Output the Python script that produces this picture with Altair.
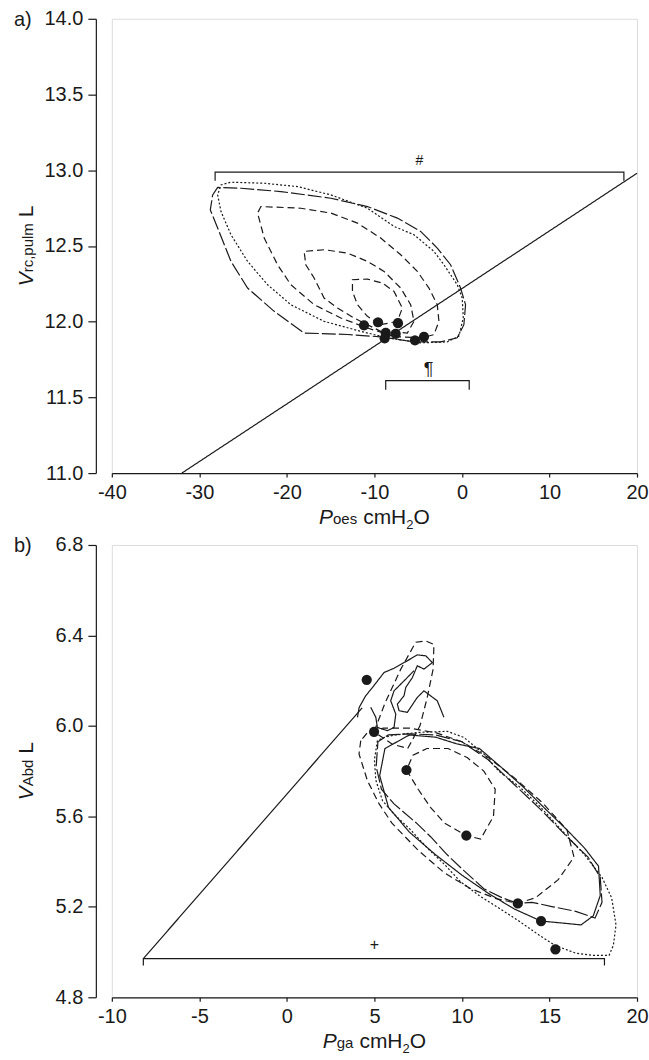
import altair as alt
import pandas as pd

FONT = "Liberation Sans"
INK = "#1a1a1a"

# ---------------- Panel a data ----------------
a_x_ticks = [-40, -30, -20, -10, 0, 10, 20]
a_y_ticks = [11.0, 11.5, 12.0, 12.5, 13.0, 13.5, 14.0]

a_loop_outer = [(-9.28, 11.90), (-5.48, 11.866), (-2.44, 11.866), (-0.54, 11.893), (0.22, 11.98),
                (0.41, 12.112), (-0.16, 12.222), (-1.30, 12.376), (-2.82, 12.486), (-4.72, 12.596),
                (-7.38, 12.684), (-10.80, 12.760), (-14.98, 12.815), (-20.69, 12.859), (-25.25, 12.881),
                (-27.91, 12.886), (-28.48, 12.837), (-28.75, 12.738), (-27.91, 12.618), (-26.39, 12.398),
                (-24.49, 12.222), (-21.45, 12.068), (-18.03, 11.925), (-13.08, 11.915)]
a_loop_dotted = [(-8.52, 11.893), (-4.72, 11.860), (-1.68, 11.866), (-0.35, 11.904), (0.15, 12.024),
                 (0.03, 12.156), (-0.54, 12.244), (-2.06, 12.376), (-3.20, 12.464), (-5.48, 12.574),
                 (-7.76, 12.629), (-10.80, 12.749), (-14.98, 12.837), (-18.79, 12.892), (-22.59, 12.914),
                 (-26.39, 12.921), (-27.53, 12.903), (-27.91, 12.837), (-27.53, 12.727), (-26.39, 12.574),
                 (-24.49, 12.398), (-22.21, 12.244), (-19.55, 12.112), (-15.75, 12.002), (-11.56, 11.936)]
a_loop_large = [(-7.76, 11.903), (-4.72, 11.892), (-3.20, 11.914), (-2.63, 12.002), (-2.82, 12.112),
                (-3.77, 12.222), (-5.10, 12.332), (-7.00, 12.442), (-9.28, 12.552), (-11.94, 12.651),
                (-14.98, 12.717), (-18.41, 12.749), (-22.97, 12.760), (-23.35, 12.717), (-22.59, 12.552),
                (-21.07, 12.376), (-19.55, 12.244), (-16.89, 12.112), (-13.84, 12.024), (-10.80, 11.958)]
a_loop_medium = [(-9.28, 11.936), (-6.24, 11.925), (-5.48, 12.002), (-5.86, 12.112), (-7.00, 12.222),
                 (-8.90, 12.332), (-10.80, 12.398), (-13.08, 12.453), (-15.75, 12.475), (-18.03, 12.464),
                 (-17.84, 12.376), (-16.89, 12.288), (-15.75, 12.156), (-14.22, 12.090), (-12.32, 12.024)]
a_loop_small = [(-9.28, 11.980), (-7.38, 12.002), (-6.81, 12.090), (-7.76, 12.200), (-9.10, 12.255),
                (-10.80, 12.281), (-12.51, 12.277), (-12.51, 12.200), (-11.94, 12.112), (-10.80, 12.035)]
a_relax_line = [(-32.0, 11.0), (20.0, 12.98)]
a_bracket_hash = [(-28.2, 12.93), (-28.2, 12.987), (18.5, 12.987), (18.5, 12.93)]
a_bracket_para = [(-8.71, 11.55), (-8.71, 11.61), (0.83, 11.61), (0.83, 11.55)]
a_dots_x = [-11.19, -9.59, -7.31, -8.71, -7.57, -8.83, -5.37, -4.34]
a_dots_y = [11.976, 11.996, 11.99, 11.926, 11.92, 11.89, 11.877, 11.90]
a_symbols = [("#", -4.85, 13.06, 14), ("¶", -3.8, 11.68, 18)]

# ---------------- Panel b data ----------------
b_x_ticks = [-10, -5, 0, 5, 10, 15, 20]
b_y_ticks = [4.8, 5.2, 5.6, 6.0, 6.4, 6.8]

b_loop_dotted = [(5.17, 5.935), (5.0, 5.85), (5.08, 5.76), (5.46, 5.67), (6.12, 5.61), (7.07, 5.54),
                 (8.02, 5.46), (8.97, 5.39), (9.93, 5.31), (11.07, 5.245), (12.2, 5.19), (13.2, 5.14),
                 (14.5, 5.07), (15.3, 5.03), (16.5, 4.995), (17.5, 4.985), (18.4, 4.985), (18.65, 5.03),
                 (18.8, 5.12), (18.55, 5.24), (18.0, 5.33), (17.0, 5.43), (15.8, 5.53), (14.5, 5.64),
                 (13.3, 5.73), (12.1, 5.80), (11.25, 5.876), (10.11, 5.949), (9.16, 5.976), (7.45, 5.971),
                 (6.2, 5.96), (5.6, 5.95)]
b_loop_long = [(13.19, 5.215), (12.3, 5.24), (11.25, 5.28), (10.11, 5.36), (9.16, 5.43), (8.21, 5.51),
               (7.45, 5.567), (6.12, 5.655), (5.4, 5.72), (5.1, 5.82), (5.2, 5.93), (5.8, 5.96),
               (7.0, 5.965), (8.5, 5.96), (10.0, 5.93), (11.5, 5.85), (13.0, 5.74), (14.5, 5.63),
               (16.0, 5.51), (17.2, 5.42), (17.9, 5.33), (18.0, 5.22), (17.6, 5.15), (16.5, 5.18),
               (15.2, 5.2), (14.0, 5.22)]
b_loop_solid = [(14.52, 5.137), (15.5, 5.13), (16.8, 5.12), (17.5, 5.16), (17.9, 5.25), (17.8, 5.38),
                (17.0, 5.46), (16.0, 5.54), (14.8, 5.63), (13.5, 5.73), (12.2, 5.82), (11.0, 5.9),
                (9.73, 5.92), (8.5, 5.95), (7.0, 5.96), (5.6, 5.9), (5.3, 5.78), (5.8, 5.64),
                (7.0, 5.53), (8.5, 5.43), (10.0, 5.34), (11.5, 5.26), (13.0, 5.19)]
b_loop_dash_big = [(4.22, 5.935), (4.12, 5.876), (4.6, 5.758), (5.27, 5.655), (6.0, 5.57), (7.5, 5.45),
                   (9.0, 5.35), (10.5, 5.28), (12.0, 5.235), (13.19, 5.215), (14.2, 5.24), (15.5, 5.32),
                   (16.4, 5.42), (16.0, 5.54), (14.6, 5.66), (13.0, 5.77), (11.5, 5.86), (10.0, 5.93),
                   (8.5, 5.97), (7.0, 5.99), (5.5, 5.99), (4.6, 5.97)]
b_loop_dash_mid = [(6.83, 5.805), (7.5, 5.72), (8.2, 5.64), (9.0, 5.57), (10.25, 5.515), (11.07, 5.50),
                   (11.8, 5.6), (11.9, 5.72), (11.25, 5.80), (10.3, 5.86), (9.2, 5.9), (8.0, 5.9),
                   (7.2, 5.87)]
b_loop_dash_top = [(4.98, 5.974), (5.6, 6.1), (6.5, 6.25), (7.36, 6.37), (7.93, 6.376), (8.4, 6.36),
                   (8.35, 6.25), (8.0, 6.12), (7.6, 6.0), (6.9, 5.9), (6.0, 5.92)]
b_scribble_1 = [(4.03, 6.038), (4.13, 6.082), (4.50, 6.133), (4.89, 6.170), (5.55, 6.236), (6.12, 6.255),
                (6.88, 6.288), (7.45, 6.314), (7.93, 6.310), (8.31, 6.280), (7.83, 6.251), (7.45, 6.266),
                (7.17, 6.214), (6.79, 6.170), (6.69, 6.133), (6.31, 6.096), (6.41, 6.067), (6.88, 6.060),
                (7.45, 6.126), (7.83, 6.155), (8.59, 6.111), (8.97, 6.038)]
b_scribble_2 = [(4.79, 6.082), (5.08, 6.038), (5.17, 5.993), (5.74, 5.979), (6.12, 5.993), (6.22, 6.052),
                (5.93, 6.111), (6.12, 6.155), (6.69, 6.199), (7.26, 6.244)]
b_relax_line = [(-8.2, 4.971), (4.3, 6.08)]
b_bracket_plus = [(-8.2, 4.94), (-8.2, 4.971), (18.14, 4.971), (18.14, 4.94)]
b_dots_x = [4.56, 4.98, 6.83, 10.25, 13.19, 14.52, 15.34]
b_dots_y = [6.204, 5.974, 5.805, 5.515, 5.215, 5.137, 5.012]
b_symbols = [("+", 5.0, 5.03, 16)]

STYLES = ["solid", "dotted", "dashed", "long", "dashdot"]
DASHES = [[1, 0], [2, 2], [7, 4], [14, 3], [12, 3, 3, 3]]

# Liberation Sans advance widths (em units) for layout of composed titles
CW = {"P": 0.667, "V": 0.667, "o": 0.556, "e": 0.556, "s": 0.5, "g": 0.556, "a": 0.556, " ": 0.278,
      "c": 0.5, "m": 0.833, "H": 0.722, "2": 0.556, "O": 0.778, "r": 0.333, ",": 0.278, "p": 0.556,
      "u": 0.556, "l": 0.222, "L": 0.556, "A": 0.667, "b": 0.556, "d": 0.556}


def tw(s, size):
    return sum(CW.get(c, 0.556) for c in s) * size


def lines_frame(items):
    rows = []
    for gid, (style, pts, closed) in enumerate(items):
        seq = list(pts) + ([pts[0]] if closed else [])
        for k, (x, y) in enumerate(seq):
            rows.append({"x": x, "y": y, "id": gid, "ord": k, "style": style})
    return pd.DataFrame(rows)


dummy = pd.DataFrame({"k": [0]})


def text_piece(s, size, italic, px, py, angle=0):
    kw = dict(text=s, font=FONT, fontSize=size, fontStyle="italic" if italic else "normal",
              align="left", baseline="alphabetic", color=INK)
    if angle:
        kw["angle"] = angle
    return alt.Chart(dummy).mark_text(**kw).encode(x=alt.value(px), y=alt.value(py))


def x_title(pieces, center_x, base_y):
    # pieces: (text, size, italic, dy, gap_before)
    total = sum(tw(s, sz) + gap for s, sz, it, dy, gap in pieces)
    x0 = center_x - total / 2
    out = []
    for s, sz, it, dy, gap in pieces:
        x0 += gap
        out.append(text_piece(s, sz, it, x0, base_y + dy))
        x0 += tw(s, sz)
    return out


def y_title(pieces, base_x, center_y):
    total = sum(tw(s, sz) + gap for s, sz, it, gap in pieces)
    y0 = center_y + total / 2
    out = []
    for s, sz, it, gap in pieces:
        y0 -= gap
        out.append(text_piece(s, sz, it, base_x, y0, angle=270))
        y0 -= tw(s, sz)
    return out


def panel(line_items, dots_x, dots_y, symbols, xdom, ydom, xticks, yticks, W, H,
          xt_pieces, yt_pieces, tag):
    df = lines_frame(line_items)
    xs = alt.Scale(domain=xdom, nice=False, zero=False)
    ys = alt.Scale(domain=ydom, nice=False, zero=False)
    xaxis = alt.Axis(values=xticks, labelExpr="'' + datum.value", title=None, grid=False,
                     domainColor=INK, tickColor=INK, labelColor=INK, labelFont=FONT, labelFontSize=20,
                     tickSize=4, labelPadding=5, domainWidth=1.2, tickWidth=1.2,
                     labelFlush=False, labelOverlap=False)
    yaxis = alt.Axis(values=yticks, labelExpr="format(datum.value, '.1f')", title=None, grid=False,
                     domainColor=INK, tickColor=INK, labelColor=INK, labelFont=FONT, labelFontSize=20,
                     tickSize=8, labelPadding=5, domainWidth=1.2, tickWidth=1.2, offset=16,
                     labelFlush=False, labelOverlap=False)
    lines = alt.Chart(df).mark_line(color=INK, strokeWidth=1.2).encode(
        x=alt.X("x:Q", scale=xs, axis=xaxis),
        y=alt.Y("y:Q", scale=ys, axis=yaxis),
        detail="id:N",
        order="ord:Q",
        strokeDash=alt.StrokeDash("style:N", scale=alt.Scale(domain=STYLES, range=DASHES), legend=None),
    )
    dots = alt.Chart(pd.DataFrame({"x": dots_x, "y": dots_y})).mark_circle(
        size=105, color=INK, opacity=1).encode(x="x:Q", y="y:Q")
    layers = [lines, dots]
    for t, sx, sy, fs in symbols:
        layers.append(alt.Chart(pd.DataFrame({"x": [sx], "y": [sy], "t": [t]})).mark_text(
            font=FONT, fontSize=fs, color=INK, baseline="middle").encode(x="x:Q", y="y:Q", text="t:N"))
    layers += x_title(xt_pieces, W / 2, H + 51)
    layers += y_title(yt_pieces, -79, H / 2)
    layers.append(text_piece(tag, 20, False, -98, 7))
    return alt.layer(*layers).properties(width=W, height=H)


SP = 6  # word gap in px

panel_a = panel(
    [("long", a_loop_outer, True), ("dotted", a_loop_dotted, True), ("dashed", a_loop_large, True),
     ("dashed", a_loop_medium, True), ("dashed", a_loop_small, True), ("solid", a_relax_line, False),
     ("solid", a_bracket_hash, False), ("solid", a_bracket_para, False)],
    a_dots_x, a_dots_y, a_symbols, [-40, 20], [11, 14], a_x_ticks, a_y_ticks, 526, 455,
    [("P", 21, True, 0, 0), ("oes", 15, False, 0, 0), ("cmH", 21, False, 0, SP),
     ("2", 13, False, 5, 0), ("O", 21, False, 0, 0)],
    [("V", 21, True, 0), ("rc,pulm", 15, False, 0), ("L", 21, False, SP)], "a)")

panel_b = panel(
    [("dotted", b_loop_dotted, True), ("long", b_loop_long, True), ("solid", b_loop_solid, True),
     ("dashed", b_loop_dash_big, True), ("dashed", b_loop_dash_mid, True), ("dashed", b_loop_dash_top, True),
     ("solid", b_scribble_1, False), ("solid", b_scribble_2, False), ("solid", b_relax_line, False),
     ("solid", b_bracket_plus, False)],
    b_dots_x, b_dots_y, b_symbols, [-10, 20], [4.8, 6.8], b_x_ticks, b_y_ticks, 526, 453,
    [("P", 21, True, 0, 0), ("ga", 15, False, 0, 0), ("cmH", 21, False, 0, SP),
     ("2", 13, False, 5, 0), ("O", 21, False, 0, 0)],
    [("V", 21, True, 0), ("Abd", 15, False, 0), ("L", 21, False, SP)], "b)")

chart = alt.vconcat(panel_a, panel_b, spacing=1).properties(
    padding={"top": 7, "left": 13, "right": 0, "bottom": 0}
).configure_view(stroke=None).configure(background="white")

chart.save("out.html", embed_options={"renderer": "svg", "actions": False})
